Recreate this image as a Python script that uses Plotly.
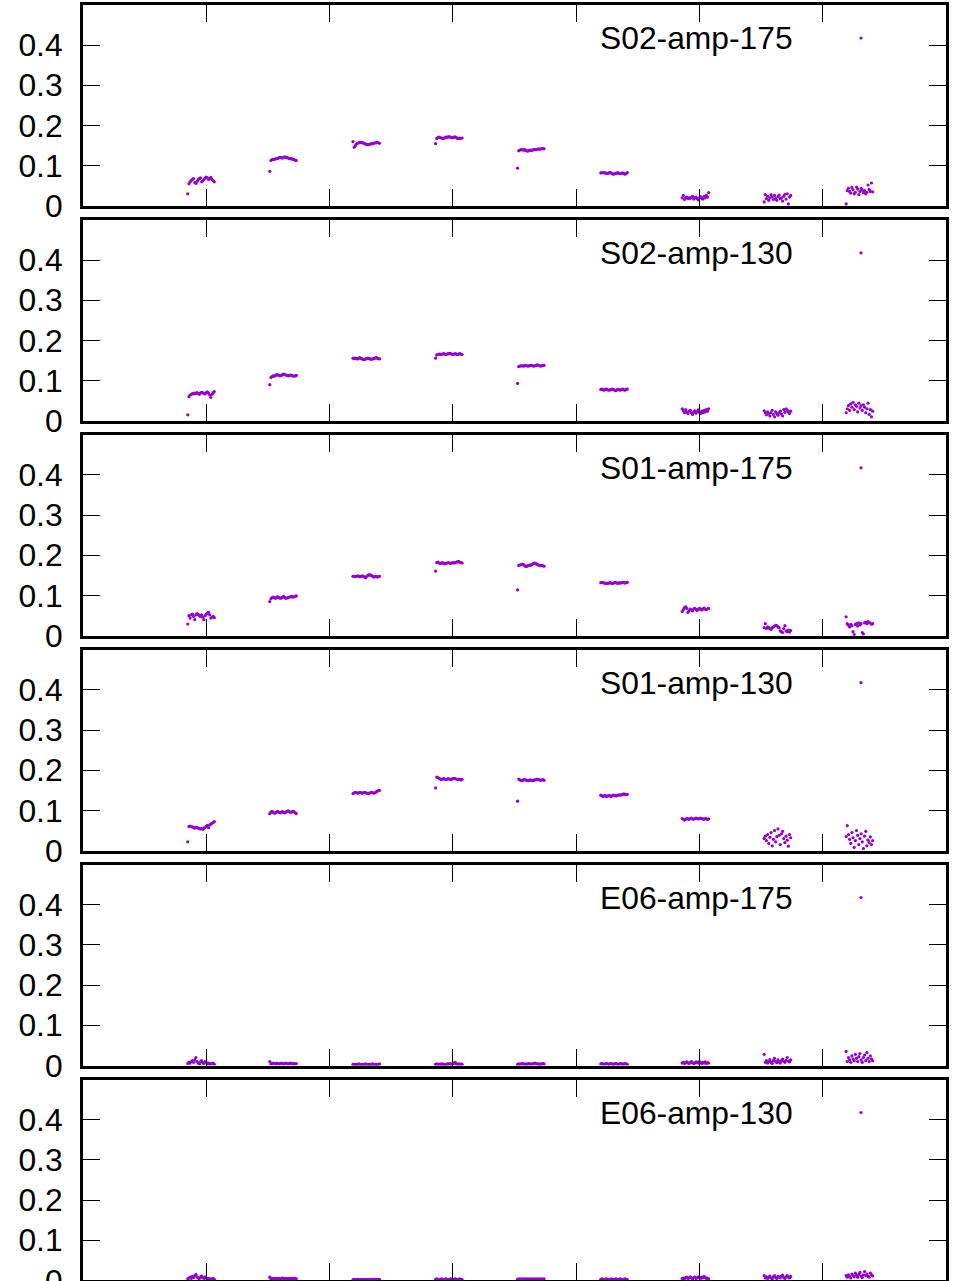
import plotly.graph_objects as go

# ---------------- data ----------------
panel_labels = ["S02-amp-175", "S02-amp-130", "S01-amp-175", "S01-amp-130", "E06-amp-175", "E06-amp-130"]
cluster_start = [0.85, 1.515, 2.19, 2.86, 3.525, 4.2, 4.86, 5.525, 6.19]
sample_step = 0.00935
x_tick_vals = [1, 2, 3, 4, 5, 6]
y_tick_vals = [0, 0.1, 0.2, 0.3, 0.4]
y_tick_text = ["0", "0.1", "0.2", "0.3", "0.4"]

s02_amp_175 = [
    [0.030, 0.055, 0.060, 0.063, 0.066, 0.068, 0.058, 0.056, 0.061, 0.065, 0.068, 0.070, 0.060, 0.062, 0.066, 0.069, 0.072, 0.070, 0.066, 0.068, 0.071, 0.066, 0.063, 0.060],
    [0.086, 0.113, 0.115, 0.116, 0.116, 0.117, 0.118, 0.118, 0.120, 0.121, 0.120, 0.119, 0.121, 0.122, 0.121, 0.120, 0.119, 0.118, 0.117, 0.118, 0.116, 0.115, 0.114, 0.113],
    [0.160, 0.146, 0.150, 0.154, 0.156, 0.157, 0.158, 0.158, 0.157, 0.157, 0.155, 0.154, 0.153, 0.152, 0.153, 0.154, 0.155, 0.155, 0.156, 0.157, 0.157, 0.158, 0.157, 0.156],
    [0.155, 0.168, 0.170, 0.171, 0.170, 0.169, 0.168, 0.168, 0.170, 0.171, 0.171, 0.172, 0.172, 0.171, 0.170, 0.170, 0.171, 0.172, 0.170, 0.168, 0.168, 0.169, 0.168, 0.169],
    [0.094, 0.137, 0.139, 0.140, 0.140, 0.139, 0.140, 0.138, 0.137, 0.136, 0.138, 0.139, 0.138, 0.139, 0.140, 0.141, 0.140, 0.141, 0.142, 0.141, 0.142, 0.142, 0.143, 0.142],
    [0.082, 0.083, 0.083, 0.082, 0.082, 0.081, 0.081, 0.082, 0.083, 0.082, 0.080, 0.079, 0.080, 0.081, 0.082, 0.082, 0.081, 0.080, 0.081, 0.082, 0.080, 0.079, 0.081, 0.083],
    [0.020, 0.026, 0.016, 0.020, 0.022, 0.018, 0.020, 0.019, 0.021, 0.024, 0.017, 0.020, 0.022, 0.018, 0.015, 0.020, 0.023, 0.019, 0.017, 0.024, 0.020, 0.026, 0.022, 0.033],
    [0.010, 0.028, 0.018, 0.024, 0.014, 0.020, 0.028, 0.022, 0.016, 0.026, 0.019, 0.014, 0.023, 0.027, 0.018, 0.020, 0.012, 0.024, 0.029, 0.017, 0.030, 0.005, 0.022, 0.026],
    [0.005, 0.038, 0.044, 0.036, 0.032, 0.046, 0.040, 0.030, 0.034, 0.047, 0.042, 0.028, 0.036, 0.044, 0.039, 0.033, 0.038, 0.030, 0.034, 0.052, 0.041, 0.036, 0.057, 0.035],
]

s02_amp_130 = [
    [0.015, 0.060, 0.064, 0.066, 0.068, 0.067, 0.069, 0.068, 0.070, 0.068, 0.066, 0.069, 0.071, 0.070, 0.068, 0.067, 0.070, 0.072, 0.069, 0.064, 0.058, 0.066, 0.070, 0.073],
    [0.090, 0.108, 0.110, 0.112, 0.111, 0.113, 0.115, 0.114, 0.113, 0.112, 0.113, 0.115, 0.116, 0.115, 0.114, 0.113, 0.112, 0.113, 0.114, 0.113, 0.112, 0.111, 0.112, 0.113],
    [0.156, 0.155, 0.156, 0.155, 0.154, 0.156, 0.157, 0.155, 0.154, 0.153, 0.152, 0.154, 0.155, 0.156, 0.155, 0.154, 0.153, 0.154, 0.155, 0.156, 0.157, 0.156, 0.155, 0.154],
    [0.156, 0.164, 0.165, 0.166, 0.166, 0.165, 0.166, 0.167, 0.166, 0.165, 0.166, 0.167, 0.168, 0.167, 0.166, 0.165, 0.166, 0.167, 0.166, 0.165, 0.166, 0.167, 0.166, 0.165],
    [0.093, 0.135, 0.136, 0.137, 0.137, 0.136, 0.137, 0.138, 0.137, 0.136, 0.137, 0.138, 0.138, 0.137, 0.136, 0.137, 0.138, 0.139, 0.138, 0.137, 0.136, 0.137, 0.138, 0.138],
    [0.078, 0.079, 0.077, 0.076, 0.078, 0.079, 0.077, 0.076, 0.077, 0.078, 0.079, 0.078, 0.076, 0.075, 0.077, 0.078, 0.077, 0.076, 0.078, 0.079, 0.077, 0.076, 0.078, 0.079],
    [0.030, 0.025, 0.020, 0.028, 0.022, 0.018, 0.024, 0.026, 0.020, 0.016, 0.022, 0.025, 0.019, 0.023, 0.027, 0.021, 0.018, 0.024, 0.020, 0.026, 0.022, 0.028, 0.024, 0.030],
    [0.025, 0.020, 0.015, 0.022, 0.018, 0.012, 0.020, 0.026, 0.016, 0.010, 0.022, 0.018, 0.014, 0.020, 0.024, 0.017, 0.012, 0.028, 0.021, 0.030, 0.026, 0.022, 0.018, 0.024],
    [0.020, 0.030, 0.038, 0.026, 0.042, 0.034, 0.046, 0.028, 0.040, 0.036, 0.022, 0.044, 0.032, 0.038, 0.026, 0.040, 0.034, 0.020, 0.030, 0.044, 0.016, 0.028, 0.010, 0.024],
]

s01_amp_175 = [
    [0.029, 0.050, 0.044, 0.052, 0.054, 0.048, 0.040, 0.052, 0.055, 0.053, 0.050, 0.048, 0.052, 0.046, 0.040, 0.050, 0.054, 0.056, 0.058, 0.052, 0.044, 0.046, 0.048, 0.045],
    [0.085, 0.092, 0.095, 0.096, 0.095, 0.093, 0.096, 0.097, 0.095, 0.093, 0.094, 0.096, 0.098, 0.095, 0.093, 0.094, 0.095, 0.096, 0.097, 0.098, 0.096, 0.097, 0.098, 0.099],
    [0.148, 0.148, 0.147, 0.148, 0.149, 0.148, 0.147, 0.148, 0.149, 0.148, 0.146, 0.144, 0.148, 0.150, 0.152, 0.151, 0.150, 0.148, 0.146, 0.147, 0.148, 0.146, 0.147, 0.148],
    [0.161, 0.182, 0.183, 0.181, 0.180, 0.181, 0.182, 0.180, 0.179, 0.180, 0.181, 0.182, 0.181, 0.180, 0.181, 0.182, 0.181, 0.182, 0.183, 0.184, 0.185, 0.183, 0.182, 0.181],
    [0.114, 0.175, 0.176, 0.177, 0.178, 0.177, 0.175, 0.172, 0.173, 0.174, 0.176, 0.175, 0.177, 0.178, 0.180, 0.181, 0.179, 0.178, 0.176, 0.175, 0.174, 0.175, 0.174, 0.173],
    [0.132, 0.133, 0.132, 0.131, 0.130, 0.131, 0.130, 0.131, 0.132, 0.131, 0.130, 0.131, 0.132, 0.133, 0.131, 0.130, 0.132, 0.131, 0.132, 0.133, 0.132, 0.131, 0.132, 0.133],
    [0.060, 0.065, 0.070, 0.072, 0.068, 0.058, 0.062, 0.066, 0.064, 0.062, 0.067, 0.068, 0.065, 0.063, 0.066, 0.068, 0.066, 0.064, 0.067, 0.069, 0.066, 0.065, 0.067, 0.068],
    [0.020, 0.030, 0.018, 0.022, 0.020, 0.017, 0.016, 0.020, 0.022, 0.024, 0.026, 0.025, 0.022, 0.020, 0.012, 0.010, 0.008, 0.018, 0.025, 0.012, 0.010, 0.014, 0.009, 0.013],
    [0.047, 0.030, 0.026, 0.022, 0.028, 0.025, 0.010, 0.003, 0.028, 0.030, 0.024, 0.032, 0.027, 0.030, 0.008, 0.004, 0.032, 0.034, 0.030, 0.035, 0.033, 0.031, 0.029, 0.030],
]

s01_amp_130 = [
    [0.022, 0.060, 0.061, 0.060, 0.059, 0.058, 0.056, 0.058, 0.057, 0.056, 0.055, 0.054, 0.055, 0.053, 0.056, 0.058, 0.061, 0.063, 0.057, 0.064, 0.066, 0.068, 0.070, 0.072],
    [0.092, 0.096, 0.098, 0.095, 0.093, 0.094, 0.096, 0.098, 0.095, 0.094, 0.096, 0.097, 0.095, 0.094, 0.096, 0.098, 0.099, 0.097, 0.095, 0.096, 0.098, 0.097, 0.094, 0.092],
    [0.142, 0.144, 0.145, 0.144, 0.143, 0.144, 0.145, 0.144, 0.143, 0.144, 0.145, 0.144, 0.143, 0.142, 0.143, 0.144, 0.145, 0.144, 0.143, 0.144, 0.146, 0.148, 0.149, 0.150],
    [0.156, 0.183, 0.182, 0.180, 0.178, 0.177, 0.178, 0.179, 0.178, 0.177, 0.178, 0.179, 0.178, 0.177, 0.178, 0.179, 0.180, 0.179, 0.178, 0.177, 0.178, 0.177, 0.176, 0.177],
    [0.123, 0.178, 0.176, 0.175, 0.174, 0.176, 0.177, 0.176, 0.175, 0.174, 0.175, 0.176, 0.175, 0.174, 0.175, 0.176, 0.177, 0.178, 0.177, 0.176, 0.175, 0.176, 0.177, 0.175],
    [0.138, 0.136, 0.135, 0.136, 0.137, 0.135, 0.136, 0.137, 0.136, 0.135, 0.137, 0.138, 0.137, 0.136, 0.137, 0.138, 0.139, 0.138, 0.139, 0.140, 0.141, 0.140, 0.139, 0.140],
    [0.080, 0.078, 0.076, 0.078, 0.080, 0.079, 0.078, 0.080, 0.081, 0.079, 0.078, 0.080, 0.081, 0.080, 0.079, 0.080, 0.081, 0.080, 0.079, 0.078, 0.080, 0.079, 0.078, 0.079],
    [0.030, 0.036, 0.025, 0.040, 0.018, 0.033, 0.045, 0.012, 0.028, 0.050, 0.022, 0.035, 0.054, 0.038, 0.015, 0.042, 0.048, 0.030, 0.020, 0.036, 0.026, 0.011, 0.040, 0.032],
    [0.035, 0.062, 0.040, 0.028, 0.018, 0.045, 0.032, 0.008, 0.025, 0.050, 0.038, 0.015, 0.030, 0.042, 0.022, 0.005, 0.036, 0.048, 0.012, 0.026, 0.020, 0.034, 0.015, 0.025],
]

e06_amp_175 = [
    [0.005, 0.008, 0.006, 0.010, 0.012, 0.008, 0.014, 0.020, 0.010, 0.006, 0.004, 0.009, 0.012, 0.007, 0.005, 0.010, 0.008, 0.004, 0.006, 0.003, 0.005, 0.004, 0.006, 0.003],
    [0.010, 0.004, 0.005, 0.006, 0.005, 0.004, 0.006, 0.005, 0.004, 0.005, 0.006, 0.005, 0.004, 0.005, 0.006, 0.005, 0.004, 0.005, 0.006, 0.005, 0.004, 0.005, 0.004, 0.005],
    [0.003, 0.002, 0.003, 0.002, 0.003, 0.004, 0.003, 0.002, 0.003, 0.002, 0.003, 0.004, 0.003, 0.002, 0.003, 0.002, 0.003, 0.004, 0.003, 0.002, 0.003, 0.002, 0.003, 0.004],
    [0.003, 0.004, 0.003, 0.002, 0.004, 0.003, 0.004, 0.003, 0.002, 0.003, 0.004, 0.003, 0.005, 0.004, 0.003, 0.004, 0.006, 0.008, 0.004, 0.003, 0.004, 0.003, 0.004, 0.003],
    [0.003, 0.004, 0.003, 0.004, 0.005, 0.004, 0.003, 0.004, 0.003, 0.004, 0.005, 0.004, 0.003, 0.004, 0.005, 0.006, 0.005, 0.004, 0.003, 0.004, 0.003, 0.004, 0.005, 0.004],
    [0.004, 0.005, 0.004, 0.003, 0.004, 0.005, 0.004, 0.003, 0.004, 0.005, 0.004, 0.003, 0.004, 0.005, 0.004, 0.003, 0.004, 0.005, 0.004, 0.003, 0.004, 0.005, 0.004, 0.003],
    [0.006, 0.008, 0.005, 0.007, 0.009, 0.006, 0.005, 0.008, 0.010, 0.007, 0.005, 0.006, 0.009, 0.008, 0.006, 0.010, 0.007, 0.005, 0.008, 0.006, 0.009, 0.005, 0.007, 0.006],
    [0.028, 0.008, 0.012, 0.006, 0.010, 0.015, 0.008, 0.005, 0.012, 0.018, 0.010, 0.007, 0.014, 0.009, 0.006, 0.012, 0.016, 0.010, 0.008, 0.013, 0.020, 0.011, 0.009, 0.014],
    [0.035, 0.010, 0.020, 0.014, 0.008, 0.024, 0.016, 0.012, 0.028, 0.018, 0.010, 0.022, 0.030, 0.014, 0.008, 0.020, 0.026, 0.012, 0.032, 0.018, 0.010, 0.024, 0.016, 0.012],
]

e06_amp_130 = [
    [0.004, 0.006, 0.008, 0.005, 0.010, 0.007, 0.012, 0.015, 0.009, 0.006, 0.004, 0.008, 0.011, 0.007, 0.005, 0.009, 0.006, 0.004, 0.005, 0.003, 0.004, 0.003, 0.005, 0.003],
    [0.008, 0.004, 0.005, 0.004, 0.005, 0.004, 0.005, 0.004, 0.005, 0.004, 0.005, 0.006, 0.005, 0.004, 0.005, 0.004, 0.005, 0.004, 0.005, 0.004, 0.005, 0.004, 0.005, 0.004],
    [0.002, 0.003, 0.002, 0.003, 0.002, 0.003, 0.002, 0.003, 0.002, 0.003, 0.002, 0.003, 0.002, 0.003, 0.002, 0.003, 0.002, 0.003, 0.002, 0.003, 0.002, 0.003, 0.002, 0.003],
    [0.003, 0.004, 0.003, 0.002, 0.003, 0.004, 0.003, 0.002, 0.003, 0.004, 0.003, 0.002, 0.003, 0.004, 0.003, 0.002, 0.003, 0.004, 0.003, 0.002, 0.003, 0.004, 0.003, 0.002],
    [0.003, 0.004, 0.003, 0.004, 0.003, 0.004, 0.003, 0.004, 0.003, 0.004, 0.003, 0.004, 0.003, 0.004, 0.003, 0.004, 0.003, 0.004, 0.003, 0.004, 0.003, 0.004, 0.003, 0.004],
    [0.003, 0.004, 0.003, 0.002, 0.003, 0.004, 0.003, 0.002, 0.003, 0.004, 0.003, 0.002, 0.003, 0.004, 0.003, 0.002, 0.003, 0.004, 0.003, 0.002, 0.003, 0.004, 0.003, 0.002],
    [0.005, 0.006, 0.004, 0.007, 0.008, 0.005, 0.006, 0.009, 0.006, 0.004, 0.007, 0.008, 0.005, 0.006, 0.009, 0.007, 0.005, 0.008, 0.006, 0.010, 0.007, 0.005, 0.006, 0.004],
    [0.012, 0.006, 0.009, 0.005, 0.008, 0.011, 0.006, 0.004, 0.009, 0.012, 0.007, 0.005, 0.010, 0.008, 0.006, 0.011, 0.013, 0.007, 0.005, 0.009, 0.012, 0.008, 0.006, 0.010],
    [0.012, 0.008, 0.014, 0.010, 0.006, 0.016, 0.012, 0.009, 0.018, 0.013, 0.008, 0.015, 0.020, 0.011, 0.007, 0.014, 0.022, 0.012, 0.016, 0.010, 0.008, 0.018, 0.014, 0.011],
]

panels = [s02_amp_175, s02_amp_130, s01_amp_175, s01_amp_130, e06_amp_175, e06_amp_130]

# ---------------- layout geometry ----------------
REF_W, REF_H = 972, 1281
CAP_H = 1298              # page height that the capture squeezes into REF_H
W, H = 972, 1330          # figure extends a little below the captured area
scale_y = CAP_H / REF_H
plot_left, plot_right = 83, 946
panel_top0, panel_bottom0, panel_pitch = 5, 206, 215
key_text_right, key_dot_x, key_y0 = 795, 861, 38
point_color = "#9400D3"
font_family = "Liberation Sans, Arial, sans-serif"
font_size = 31.8


def yfrac(ref_px):
    return 1 - ref_px * scale_y / H


fig = go.Figure()
layout = dict(
    width=W, height=H, autosize=False,
    margin=dict(l=0, r=0, t=0, b=0),
    paper_bgcolor="white", plot_bgcolor="white",
    font=dict(family=font_family, size=font_size, color="black"),
    showlegend=True,
)
annotations = []

for k, (label, clusters) in enumerate(zip(panel_labels, panels)):
    xs, ys = [], []
    for start, vals in zip(cluster_start, clusters):
        for i, v in enumerate(vals):
            xs.append(start + i * sample_step)
            ys.append(v)
    suffix = "" if k == 0 else str(k + 1)
    legend_name = "legend" + suffix
    fig.add_trace(go.Scatter(
        x=xs, y=ys, mode="markers",
        marker=dict(color=point_color, size=3.2, symbol="circle"),
        name=" ", showlegend=True, legend=legend_name,
        xaxis="x" + suffix, yaxis="y" + suffix,
    ))
    top_px = panel_top0 + k * panel_pitch
    bot_px = panel_bottom0 + k * panel_pitch
    y_dom = [yfrac(bot_px), yfrac(top_px)]
    layout["xaxis" + suffix] = dict(
        domain=[plot_left / REF_W, plot_right / REF_W], range=[0, 7],
        anchor="y" + suffix,
        tickvals=x_tick_vals, showticklabels=False,
        ticks="inside", ticklen=17, tickwidth=1.3, tickcolor="black",
        showline=True, linewidth=3, linecolor="black", mirror="allticks",
        showgrid=False, zeroline=False,
    )
    layout["yaxis" + suffix] = dict(
        domain=y_dom, range=[0, 0.5],
        anchor="x" + suffix,
        tickvals=y_tick_vals, ticktext=y_tick_text,
        ticks="inside", ticklen=17, tickwidth=1.3, tickcolor="black",
        showline=True, linewidth=3, linecolor="black", mirror="allticks",
        showgrid=False, zeroline=False,
        tickfont=dict(family=font_family, size=font_size, color="black"),
        ticklabelstandoff=11,
    )
    key_y = yfrac(key_y0 + k * panel_pitch)
    annotations.append(dict(
        text=label, xref="paper", yref="paper", x=key_text_right / REF_W, y=key_y,
        xanchor="right", yanchor="middle", showarrow=False,
        font=dict(family=font_family, size=font_size, color="black"),
    ))
    layout[legend_name] = dict(
        x=(key_dot_x - 20) / REF_W, y=key_y, xanchor="left", yanchor="middle",
        bgcolor="rgba(0,0,0,0)", borderwidth=0,
        font=dict(size=10), itemwidth=30,
    )

layout["annotations"] = annotations
fig.update_layout(**layout)
fig.write_html(
    "out.html",
    config={"displayModeBar": False},
    post_script="document.body.style.margin='0px';document.body.style.overflow='hidden';",
)
